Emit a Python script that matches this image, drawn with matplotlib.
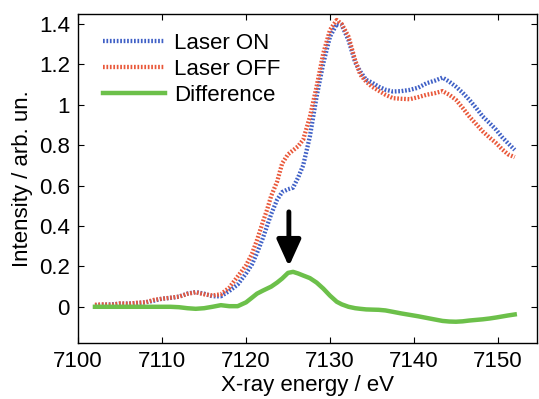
import matplotlib
matplotlib.use('Agg')
import matplotlib.pyplot as plt

plt.rcParams['font.family'] = ['Liberation Sans', 'DejaVu Sans']

# energies (eV), shared by all three curves
energy = [7102, 7103, 7104, 7105, 7106, 7107, 7108, 7109, 7110, 7111, 7112, 7113,
          7114, 7115, 7116, 7117, 7118, 7119, 7120, 7120.7, 7121.3, 7122, 7122.5,
          7123, 7123.7, 7124.3, 7125, 7125.6, 7126.2, 7126.8, 7127.6, 7128.4,
          7129.2, 7130, 7130.8, 7131.4, 7132.2, 7133, 7133.6, 7134.3, 7135,
          7135.8, 7136.6, 7137.5, 7138.5, 7139.5, 7140.5, 7141.5, 7142.5, 7143.4,
          7144.2, 7145, 7145.8, 7146.6, 7147.4, 7148.2, 7149, 7149.8, 7150.5,
          7151.2, 7152]

laser_on = [0.008, 0.010, 0.012, 0.015, 0.016, 0.018, 0.022, 0.030, 0.040, 0.044,
            0.050, 0.065, 0.073, 0.065, 0.052, 0.052, 0.078, 0.110, 0.165, 0.21,
            0.266, 0.34, 0.40, 0.46, 0.53, 0.568, 0.582, 0.59, 0.64, 0.70, 0.843,
            1.04, 1.206, 1.338, 1.40, 1.395, 1.32, 1.21, 1.165, 1.124, 1.11, 1.09,
            1.075, 1.066, 1.068, 1.074, 1.085, 1.107, 1.12, 1.135, 1.115, 1.09,
            1.06, 1.025, 0.985, 0.942, 0.91, 0.876, 0.84, 0.81, 0.777]

laser_off = [0.010, 0.012, 0.010, 0.017, 0.015, 0.020, 0.022, 0.034, 0.040, 0.045,
             0.050, 0.064, 0.072, 0.062, 0.056, 0.062, 0.095, 0.150, 0.205, 0.262,
             0.33, 0.42, 0.48, 0.55, 0.62, 0.71, 0.755, 0.775, 0.795, 0.827, 0.94,
             1.09, 1.255, 1.371, 1.42, 1.40, 1.338, 1.22, 1.15, 1.115, 1.09, 1.07,
             1.05, 1.033, 1.03, 1.028, 1.038, 1.05, 1.058, 1.068, 1.05, 1.025,
             0.985, 0.942, 0.905, 0.868, 0.838, 0.81, 0.78, 0.755, 0.741]

difference = [0.0, 0.0, 0.0, 0.0, 0.0, 0.0, 0.0, 0.0, 0.0, 0.0, -0.002, -0.007,
              -0.01, -0.007, 0.0, 0.008, 0.003, 0.003, 0.022, 0.045, 0.065, 0.08,
              0.09, 0.1, 0.12, 0.14, 0.168, 0.173, 0.165, 0.155, 0.142, 0.12, 0.09,
              0.055, 0.025, 0.012, 0.0, -0.007, -0.01, -0.013, -0.014, -0.015,
              -0.018, -0.025, -0.033, -0.04, -0.047, -0.055, -0.063, -0.07, -0.073,
              -0.074, -0.072, -0.068, -0.065, -0.062, -0.058, -0.053, -0.048,
              -0.043, -0.038]

xticks = [7100, 7110, 7120, 7130, 7140, 7150]
yticks = [0, 0.2, 0.4, 0.6, 0.8, 1.0, 1.2, 1.4]
ytick_labels = ['0', '0.2', '0.4', '0.6', '0.8', '1', '1.2', '1.4']

fig = plt.figure(figsize=(5.39, 3.99), dpi=100)
ax = fig.add_axes([0.145, 0.14, 0.852, 0.825])

dots = (0, (0.4, 0.4))
ax.plot(energy, laser_on, color='#3f60c6', lw=3.1, ls=dots, label='Laser ON')
ax.plot(energy, laser_off, color='#e9583a', lw=3.1, ls=dots, label='Laser OFF')
ax.plot(energy, difference, color='#6cc04a', lw=3.2, label='Difference')

# arrow marking the pre-edge feature
ax.annotate('', xy=(7125.1, 0.2), xytext=(7125.1, 0.47),
            arrowprops=dict(arrowstyle='-|>,head_length=0.55,head_width=0.25',
                            mutation_scale=29, lw=3.5, color='black',
                            shrinkA=0, shrinkB=0))

ax.set_xlim(7100, 7154.7)
ax.set_ylim(-0.18, 1.45)
ax.set_xticks(xticks)
ax.set_yticks(yticks)
ax.set_yticklabels(ytick_labels)
ax.tick_params(direction='in', length=4, top=True, right=True, labelsize=16, pad=6)
for s in ax.spines.values():
    s.set_linewidth(1.0)

ax.set_xlabel('X-ray energy / eV', fontsize=16, labelpad=2)
ax.set_ylabel('Intensity / arb. un.', fontsize=16, labelpad=4)

ax.legend(loc='upper left', frameon=False, fontsize=16, handlelength=2.8,
          handletextpad=0.4, labelspacing=0.22, borderaxespad=0.3,
          bbox_to_anchor=(0.02, 0.99))

fig.savefig('out.png', dpi=100)
